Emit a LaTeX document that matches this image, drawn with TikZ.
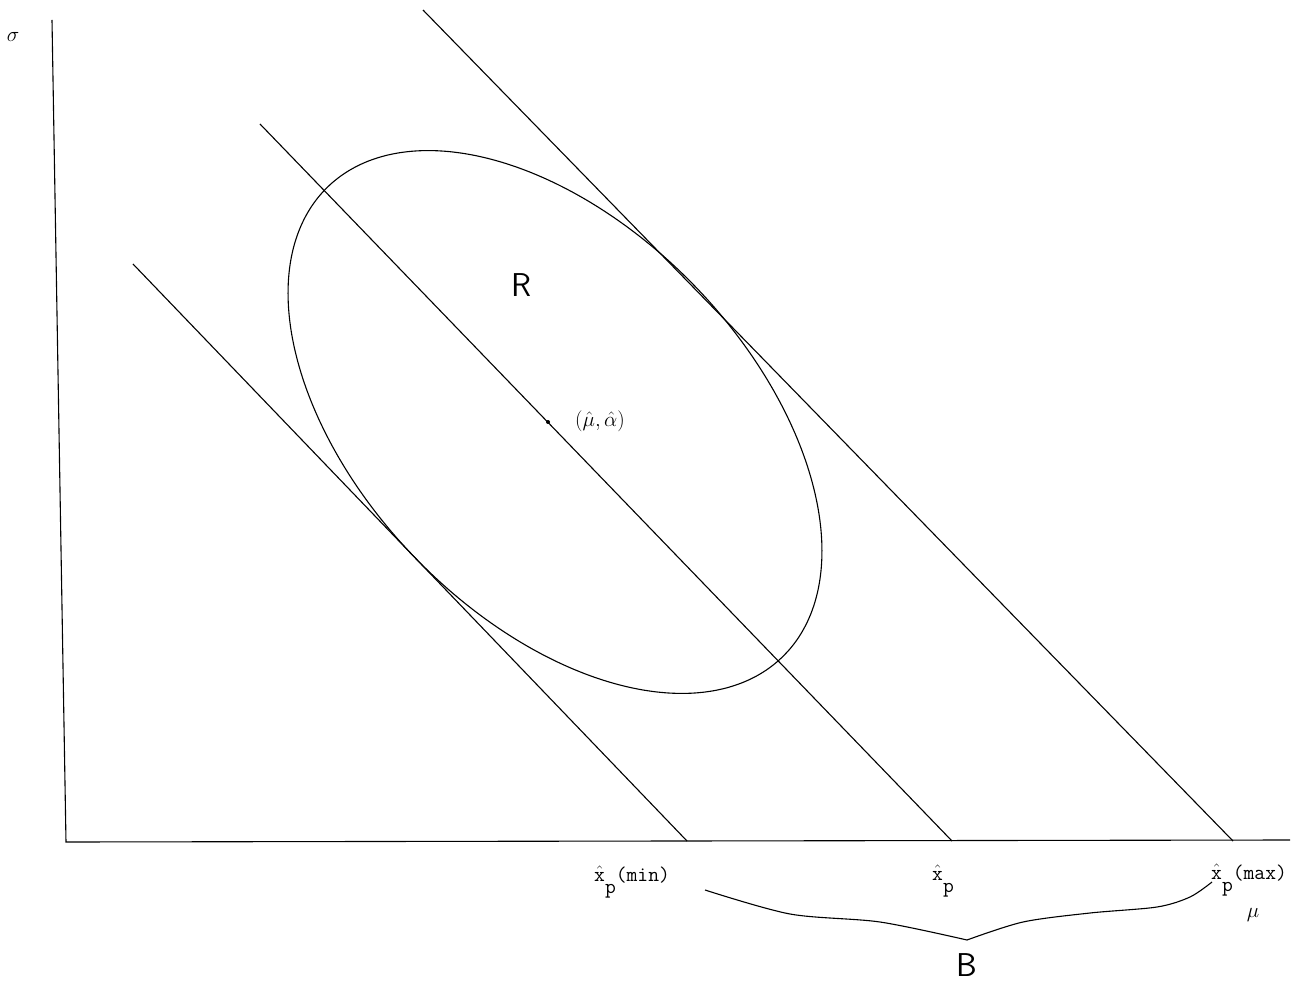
\documentclass[tikz,border=0pt]{standalone}
\usepackage{fix-cm}
\usepackage{fontspec}
\usepackage{amsmath}
\begin{document}
\begin{tikzpicture}[x=1pt,y=-1pt,
  thinline/.style={line width=1.1pt,black},
  tlabel/.style={inner sep=0pt,font=\fontsize{21}{24}\selectfont\ttfamily},
  biglabel/.style={inner sep=0pt,font=\fontsize{33}{40}\selectfont\sffamily},
  axlabel/.style={inner sep=0pt,font=\fontsize{21}{24}\selectfont}]
\useasboundingbox (0,0) rectangle (1301,981);
% axes
\coordinate (ytop) at (52,20);
\coordinate (origin) at (66,842);
\coordinate (xend) at (1290,840);
\draw[thinline] (ytop) -- (origin) -- (xend);
% parallel lines
\coordinate (l1a) at (133,264); \coordinate (l1b) at (687,841);
\coordinate (l2a) at (260,124); \coordinate (l2b) at (952,841);
\coordinate (l3a) at (423,10);  \coordinate (l3b) at (1233,841);
\draw[thinline] (l1a) -- (l1b);
\draw[thinline] (l2a) -- (l2b);
\draw[thinline] (l3a) -- (l3b);
% ellipse
\draw[thinline] plot[domain=0:360,samples=120,smooth cycle]
  ({555 + 327*cos(\x)*cos(46) - 195*sin(\x)*sin(46)},
   {422 + 327*cos(\x)*sin(46) + 195*sin(\x)*cos(46)});
% centre point
\fill (548,422) circle (2pt);
\node[axlabel,anchor=west] (ctr) at (575,421) {$(\hat{\mu},\hat{\alpha})$};
\node[biglabel] (R) at (521,285) {R};
% axis labels
\node[axlabel] (sigma) at (13,37) {$\sigma$};
\node[axlabel] (mu) at (1253,915) {$\mu$};
% x labels
\node[tlabel,anchor=base west] (xmin) at (594,881)
  {$\hat{\mathtt{x}}$\raisebox{-0.6em}{p}(min)};
\node[tlabel,anchor=base west] (xmid) at (932,880)
  {$\hat{\mathtt{x}}$\raisebox{-0.6em}{p}};
\node[tlabel,anchor=base west] (xmax) at (1211,879)
  {$\hat{\mathtt{x}}$\raisebox{-0.6em}{p}(max)};
% brace
\coordinate (btip) at (967,940);
\draw[thinline] plot[smooth,tension=0.5] coordinates
  {(705,890) (790,914) (880,922) (967,940)};
\draw[thinline] plot[smooth,tension=0.5] coordinates
  {(967,940) (1023,922) (1090,913) (1157,907) (1190,897) (1212,882)};
\node[biglabel] (B) at (967,965) {B};
\end{tikzpicture}
\end{document}
